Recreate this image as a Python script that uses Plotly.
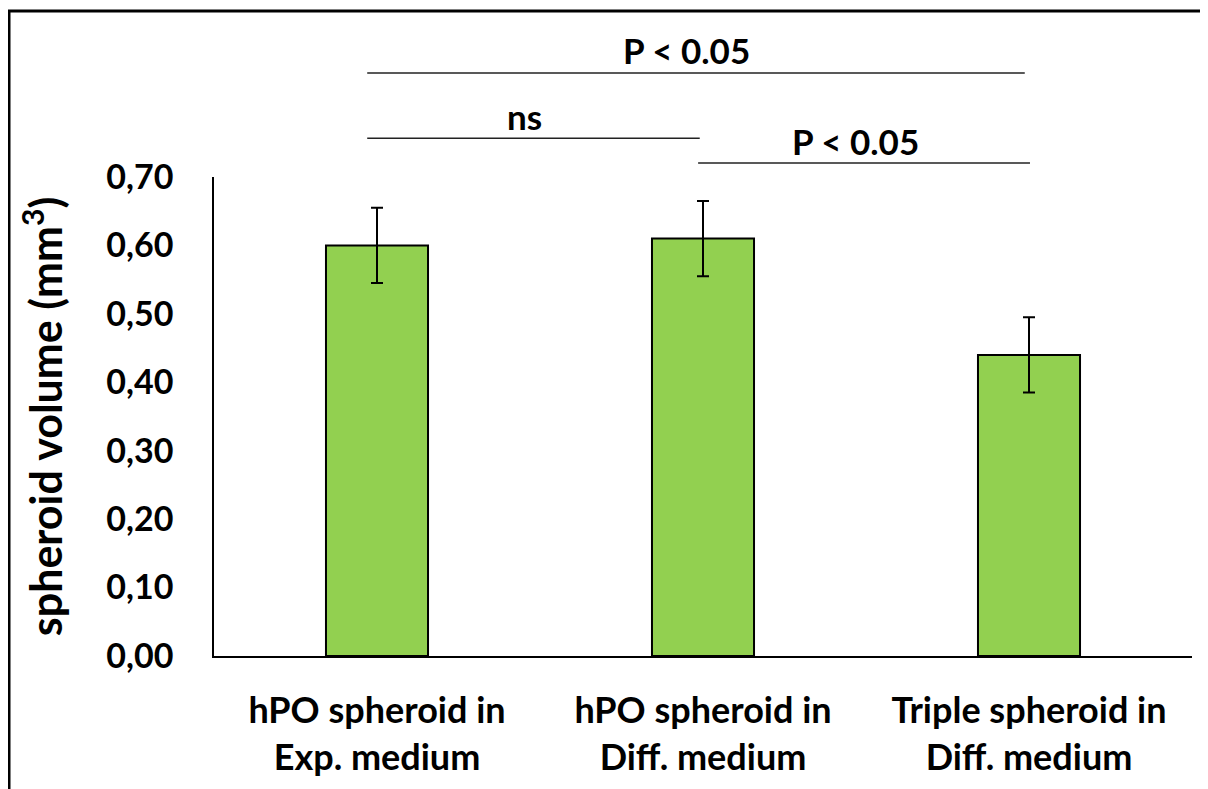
import plotly.graph_objects as go

categories = ["hPO spheroid in<br>Exp. medium",
              "hPO spheroid in<br>Diff. medium",
              "Triple spheroid in<br>Diff. medium"]
volumes = [0.60, 0.61, 0.44]
errors = [0.055, 0.055, 0.055]
tick_vals = [0.0, 0.1, 0.2, 0.3, 0.4, 0.5, 0.6, 0.7]
tick_text = ["0,00", "0,10", "0,20", "0,30", "0,40", "0,50", "0,60", "0,70"]

# significance brackets: (from category, to category, label)
brackets = [(0, 2, "P < 0.05"), (0, 1, "ns"), (1, 2, "P < 0.05")]
# vertical placement of each bracket (line, text) in y-domain units
bracket_levels = [(1.217, 1.265), (1.081, 1.127), (1.029, 1.075)]
bracket_xoff = [(-0.03, -0.013), (-0.03, -0.01), (-0.015, 0.003)]

FONT = "Lato"
N = len(categories)

# page body has an 8px margin; plot area should sit at x 214..1192, y 177..656
W, H = 1200, 781
L, T = 206, 169
PW, PH = 978, 479

fig = go.Figure()
fig.add_trace(go.Bar(
    x=list(range(N)), y=volumes,
    marker=dict(color="#92D050", line=dict(color="black", width=2)),
    error_y=dict(type="data", array=errors, visible=True,
                 color="black", thickness=2, width=6),
    width=0.313,
))

def cat_to_dom(c):
    return (c + 0.5) / N

shapes = []
annotations = []
for (i, j, lab), (ly, ty), (o1, o2) in zip(brackets, bracket_levels, bracket_xoff):
    x0 = cat_to_dom(i + o1)
    x1 = cat_to_dom(j + o2)
    shapes.append(dict(type="line", xref="x domain", yref="y domain",
                       x0=x0, x1=x1, y0=ly, y1=ly,
                       line=dict(color="#222222", width=1.5)))
    annotations.append(dict(xref="x domain", yref="y domain",
                            x=(x0 + x1) / 2, y=ty, text=lab, showarrow=False,
                            xshift=-9, xanchor="center", yanchor="middle",
                            font=dict(family=FONT, size=35, color="black",
                                      weight="bold")))

# outer frame (left/top edges visible, right/bottom run off the page)
shapes.append(dict(type="rect", xref="paper", yref="paper",
                   x0=(9 - 214) / PW, x1=(1215 - 214) / PW,
                   y0=(656 - 800) / PH, y1=(656 - 11) / PH,
                   line=dict(color="black", width=3), fillcolor="rgba(0,0,0,0)"))

fig.update_layout(
    width=W, height=H,
    margin=dict(l=L, r=W - L - PW, t=T, b=H - T - PH),
    paper_bgcolor="white", plot_bgcolor="white",
    showlegend=False,
    shapes=shapes, annotations=annotations,
    font=dict(family=FONT, color="black"),
)
fig.update_xaxes(
    range=[-0.5, N - 0.5], tickmode="array",
    tickvals=list(range(N)), ticktext=categories,
    showline=True, linecolor="black", linewidth=2,
    showgrid=False, zeroline=False, ticks="",
    tickfont=dict(family=FONT, size=36, color="black", weight="bold"),
    ticklabelstandoff=22,
)
fig.update_yaxes(
    range=[0, 0.7], tickmode="array", tickvals=tick_vals, ticktext=tick_text,
    showline=True, linecolor="black", linewidth=1.5,
    showgrid=False, zeroline=False, ticks="",
    tickfont=dict(family=FONT, size=34, color="black", weight="bold"),
    ticklabelstandoff=32,
    title=dict(text="spheroid volume (mm<sup>3</sup>)", standoff=30,
               font=dict(family=FONT, size=43, color="black", weight="bold")),
)

fig.write_html("out.html")
